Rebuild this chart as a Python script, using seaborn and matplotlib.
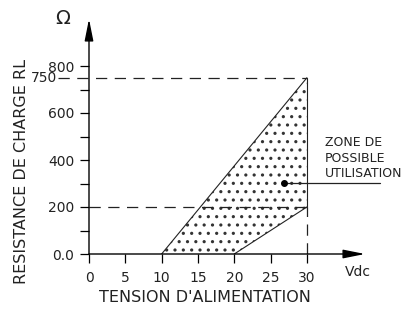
import matplotlib
matplotlib.use("Agg")
import matplotlib.pyplot as plt
import seaborn as sns

# données
zone_v = [10, 30, 30, 20]          # tension (Vdc)
zone_r = [0, 750, 200, 0]          # résistance (ohm)
upper_v = [10, 30]
upper_r = [0, 750]
lower_v = [20, 30]
lower_r = [0, 200]
r_max = 750
r_min = 200
v_max = 30
x_ticks = [0, 5, 10, 15, 20, 25, 30]
y_ticks = [0, 200, 400, 600, 800]
y_tick_labels = ["0.0", "200", "400", "600", "800"]
y_minor = [100, 300, 500, 700]
marker_v, marker_r = 26.8, 302

sns.set_theme(style="white")
plt.rcParams["font.family"] = ["DejaVu Sans"]
plt.rcParams["hatch.linewidth"] = 1.1
ink = "#222222"

fig = plt.figure(figsize=(4.05, 3.11), dpi=100)
ax = fig.add_axes([89 / 405, 57 / 311, 276 / 405, 235 / 311])
ax.set_xlim(0, 38)
ax.set_ylim(0, 1000)
for s in ax.spines.values():
    s.set_visible(False)

# zone hachurée
ax.fill(zone_v, zone_r, facecolor="none", edgecolor="#333333", hatch="..", lw=0)
sns.lineplot(x=upper_v, y=upper_r, ax=ax, color=ink, lw=0.8, sort=False)
sns.lineplot(x=lower_v, y=lower_r, ax=ax, color=ink, lw=0.8, sort=False)
ax.plot([v_max, v_max], [r_min, r_max], color=ink, lw=0.8)

# lignes pointillées
dash = (0, (9, 6))
ax.plot([-4.3, v_max], [r_max, r_max], color=ink, lw=0.9, ls=dash, clip_on=False)
ax.plot([0, v_max], [r_min, r_min], color=ink, lw=0.9, ls=dash)
ax.plot([v_max, v_max], [0, r_min], color=ink, lw=0.9, ls=dash)

# axes avec flèches
arrow = dict(arrowstyle="-|>,head_length=1.1,head_width=0.22", lw=1, color="black",
             shrinkA=0, shrinkB=0)
ax.annotate("", xy=(0, 1000), xytext=(0, 0), arrowprops=arrow, annotation_clip=False)
ax.annotate("", xy=(38, 0), xytext=(0, 0), arrowprops=arrow, annotation_clip=False)

ax.set_xticks(x_ticks)
ax.set_xticklabels([str(v) for v in x_ticks])
ax.set_yticks(y_ticks)
ax.set_yticklabels(y_tick_labels)
ax.set_yticks(y_minor, minor=True)
ax.tick_params(axis="x", bottom=True, direction="out", length=6.5, width=0.9,
               color="black", pad=5.5, labelsize=10, labelcolor=ink)
ax.tick_params(axis="y", left=True, direction="out", length=6.5, width=0.9,
               color="black", pad=4, labelsize=10, labelcolor=ink)
ax.tick_params(axis="y", which="minor", left=True, length=6.5, width=0.9, color="black")
ax.grid(False)

ax.text(-4.4, r_max, "750", ha="right", va="center", fontsize=10, color=ink, clip_on=False)
ax.text(-3.6, 1000, "\u03a9", ha="center", va="center", fontsize=14, color=ink, clip_on=False)
ax.text(37.0, -77, "Vdc", ha="center", va="center", fontsize=10, color=ink, clip_on=False)

# annotation de la zone
ax.plot([marker_v, 40], [marker_r, marker_r], color=ink, lw=0.9, clip_on=False)
ax.plot([marker_v], [marker_r], "o", color="black", ms=4)
ax.text(32.5, 408, "ZONE DE\nPOSSIBLE\nUTILISATION", ha="left", va="center",
        fontsize=9, linespacing=1.25, color=ink, clip_on=False)

fig.text(22 / 405, 1 - 171 / 311, "RESISTANCE DE CHARGE RL", rotation=90,
         ha="center", va="center", fontsize=11.5, color=ink)
fig.text(205 / 405, 1 - 297 / 311, "TENSION D'ALIMENTATION",
         ha="center", va="center", fontsize=11.5, color=ink)

fig.savefig("out.png", dpi=100)
